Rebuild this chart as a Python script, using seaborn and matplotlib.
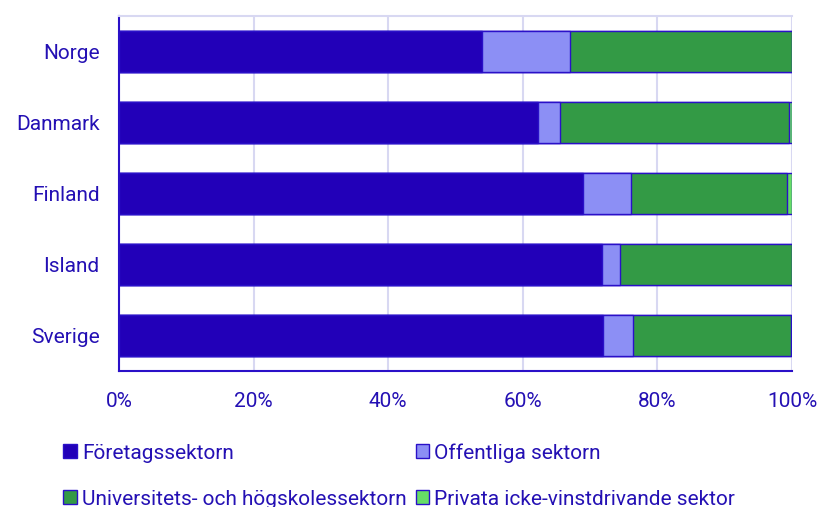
import matplotlib
matplotlib.use("Agg")
import matplotlib.pyplot as plt
from matplotlib.patches import Patch
import seaborn as sns
import pandas as pd
import numpy as np

# data (andel av FoU-utgifter per sektor, %)
lander = ["Norge", "Danmark", "Finland", "Island", "Sverige"]
foretag = [53.9, 62.2, 68.9, 71.7, 71.9]
offentliga = [13.1, 3.4, 7.2, 2.8, 4.5]
universitet = [33.0, 34.0, 23.2, 25.5, 23.5]
privata = [0.0, 0.4, 0.7, 0.0, 0.1]

sektorer = ["Företagssektorn", "Offentliga sektorn",
            "Universitets- och högskolessektorn", "Privata icke-vinstdrivande sektor"]
farger = ["#2200b8", "#8c8ff5", "#339a45", "#66dd66"]
xticks = [0, 20, 40, 60, 80, 100]
xlabels = ["0%", "20%", "40%", "60%", "80%", "100%"]

textfarg = "#2410b4"
kant = "#2a10c8"

sns.set_style("white")
plt.rcParams["font.family"] = ["Roboto", "DejaVu Sans"]
plt.rcParams["font.size"] = 15

df = pd.DataFrame({"land": lander, sektorer[0]: foretag, sektorer[1]: offentliga,
                   sektorer[2]: universitet, sektorer[3]: privata})
cum = df[sektorer].cumsum(axis=1)
cum["land"] = df["land"]

fig = plt.figure(figsize=(8.2, 5.07), dpi=100)
ax = fig.add_axes([119/820, 1 - 371/507, (792-119)/820, (371-16)/507])

# staplade staplar: rita kumulativa summor bakifrån
for sek, farg in reversed(list(zip(sektorer, farger))):
    sns.barplot(data=cum, x=sek, y="land", orient="h", color=farg, width=0.58,
                edgecolor=kant, linewidth=1, saturation=1, ax=ax, zorder=3)

ax.set_xlim(0, 100)
ax.set_ylim(4.5, -0.5)
ax.set_xticks(xticks)
ax.set_xticklabels(xlabels, color=textfarg)
ax.set_yticks(range(len(lander)))
ax.set_yticklabels(lander, color=textfarg)
ax.set_yticks(np.arange(-0.5, len(lander), 1), minor=True)
ax.tick_params(axis="y", which="major", length=0, pad=14)
ax.tick_params(axis="y", which="minor", length=7, width=1.5, color=kant)
ax.tick_params(axis="x", length=7, width=1.5, color=kant, pad=8)
ax.set_xlabel("")
ax.set_ylabel("")

ax.grid(axis="x", color="#d8d8f2", linewidth=1.5, zorder=0)
ax.set_axisbelow(True)
for s in ["left", "bottom"]:
    ax.spines[s].set_color(kant)
    ax.spines[s].set_linewidth(1.5)
ax.spines["top"].set_color("#d8d8f2")
ax.spines["top"].set_linewidth(1.5)
ax.spines["right"].set_visible(False)

# legend radvis: ordna om för kolumnvis fyllning
ordning = [0, 2, 1, 3]
handles = [Patch(facecolor=farger[i], edgecolor=kant, linewidth=1) for i in ordning]
labels = [sektorer[i] for i in ordning]
leg = fig.legend(handles, labels, loc="upper left", bbox_to_anchor=(63/820, 1 - 443/507),
                 ncol=2, frameon=False, handlelength=0.65, handleheight=0.65,
                 handletextpad=0.25, columnspacing=0.45, labelspacing=1.3,
                 borderpad=0, borderaxespad=0, fontsize=15)
for t in leg.get_texts():
    t.set_color(textfarg)

fig.savefig("out.png", dpi=100)
